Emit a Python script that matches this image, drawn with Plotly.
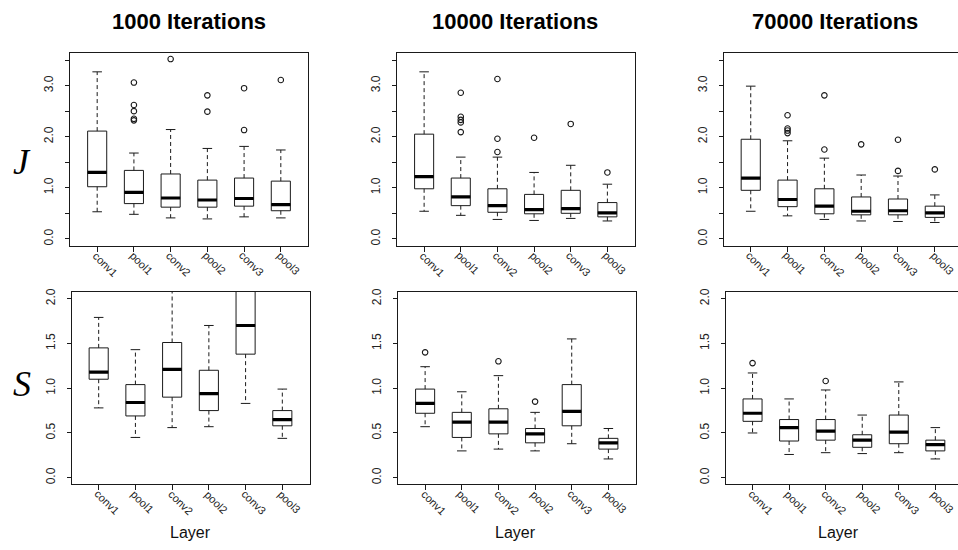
import plotly.graph_objects as go

# ---------------- data ----------------
layers = ["conv1", "pool1", "conv2", "pool2", "conv3", "pool3"]
col_titles = ["1000 Iterations", "10000 Iterations", "70000 Iterations"]
row_labels = ["J", "S"]
x_label = "Layer"

# J, 1000 iterations
J1k_lower = [0.53, 0.48, 0.41, 0.39, 0.43, 0.41]
J1k_q1 = [1.02, 0.69, 0.62, 0.62, 0.64, 0.55]
J1k_median = [1.30, 0.91, 0.80, 0.76, 0.79, 0.67]
J1k_q3 = [2.11, 1.34, 1.27, 1.15, 1.19, 1.13]
J1k_upper = [3.27, 1.68, 2.14, 1.77, 1.81, 1.74]
J1k_outliers = [[], [3.06, 2.62, 2.50, 2.35, 2.32], [3.52], [2.81, 2.49], [2.95, 2.13], [3.11]]

# J, 10000 iterations
J10k_lower = [0.54, 0.46, 0.38, 0.36, 0.40, 0.35]
J10k_q1 = [0.98, 0.65, 0.52, 0.49, 0.50, 0.43]
J10k_median = [1.22, 0.82, 0.65, 0.57, 0.59, 0.51]
J10k_q3 = [2.05, 1.19, 0.98, 0.87, 0.95, 0.71]
J10k_upper = [3.27, 1.60, 1.60, 1.30, 1.44, 1.07]
J10k_outliers = [[], [2.86, 2.39, 2.33, 2.28, 2.09], [3.13, 1.96, 1.70], [1.98], [2.25], [1.30]]

# J, 70000 iterations
J70k_lower = [0.54, 0.45, 0.38, 0.35, 0.34, 0.32]
J70k_q1 = [0.95, 0.63, 0.49, 0.47, 0.47, 0.42]
J70k_median = [1.19, 0.77, 0.64, 0.54, 0.55, 0.51]
J70k_q3 = [1.95, 1.15, 0.98, 0.82, 0.78, 0.64]
J70k_upper = [2.99, 1.92, 1.58, 1.25, 1.23, 0.86]
J70k_outliers = [[], [2.42, 2.16, 2.12, 2.07], [2.81, 1.75], [1.85], [1.94, 1.33], [1.36]]

# S, 1000 iterations
S1k_lower = [0.78, 0.45, 0.56, 0.57, 0.83, 0.44]
S1k_q1 = [1.10, 0.69, 0.90, 0.75, 1.38, 0.58]
S1k_median = [1.18, 0.84, 1.21, 0.94, 1.70, 0.65]
S1k_q3 = [1.45, 1.04, 1.51, 1.20, 2.20, 0.75]
S1k_upper = [1.79, 1.43, 2.25, 1.70, 2.90, 0.99]
S1k_outliers = [[], [], [], [], [], []]

# S, 10000 iterations
S10k_lower = [0.57, 0.30, 0.32, 0.30, 0.38, 0.21]
S10k_q1 = [0.72, 0.45, 0.49, 0.39, 0.58, 0.32]
S10k_median = [0.83, 0.62, 0.62, 0.49, 0.74, 0.39]
S10k_q3 = [0.99, 0.73, 0.77, 0.55, 1.04, 0.44]
S10k_upper = [1.24, 0.96, 1.14, 0.73, 1.55, 0.55]
S10k_outliers = [[1.40], [], [1.30], [0.85], [], []]

# S, 70000 iterations
S70k_lower = [0.50, 0.26, 0.28, 0.27, 0.28, 0.21]
S70k_q1 = [0.63, 0.41, 0.42, 0.34, 0.38, 0.30]
S70k_median = [0.72, 0.56, 0.52, 0.42, 0.51, 0.37]
S70k_q3 = [0.88, 0.65, 0.65, 0.48, 0.70, 0.42]
S70k_upper = [1.17, 0.88, 0.98, 0.70, 1.07, 0.56]
S70k_outliers = [[1.28], [], [1.08], [], [], []]

J_ticks = [0.0, 0.5, 1.0, 1.5, 2.0, 2.5, 3.0, 3.5]
J_ticktext = ["0.0", "", "1.0", "", "2.0", "", "3.0", ""]
S_ticks = [0.0, 0.5, 1.0, 1.5, 2.0]
S_ticktext = ["0.0", "0.5", "1.0", "1.5", "2.0"]

# ---------------- layout geometry ----------------
W, H = 958, 550
BOX_W = 0.52
CAP_W = 0.26
INK = "#1a1a1a"
TXT = "#222222"
SANS = "Liberation Sans, Arial, sans-serif"

panels = [
    # (stats, row, col, x px domain, x range right)
    ((J1k_lower, J1k_q1, J1k_median, J1k_q3, J1k_upper, J1k_outliers), 0, 0, (70, 308), 6.74),
    ((J10k_lower, J10k_q1, J10k_median, J10k_q3, J10k_upper, J10k_outliers), 0, 1, (397, 634.5), 6.74),
    ((J70k_lower, J70k_q1, J70k_median, J70k_q3, J70k_upper, J70k_outliers), 0, 2, (723.5, 958), 6.63),
    ((S1k_lower, S1k_q1, S1k_median, S1k_q3, S1k_upper, S1k_outliers), 1, 0, (71.5, 309.5), 6.74),
    ((S10k_lower, S10k_q1, S10k_median, S10k_q3, S10k_upper, S10k_outliers), 1, 1, (398, 635.5), 6.74),
    ((S70k_lower, S70k_q1, S70k_median, S70k_q3, S70k_upper, S70k_outliers), 1, 2, (725.5, 958), 6.62),
]
row_px = [(49.3, 243.5), (290, 484)]
row_range = [[-0.135, 3.64], [-0.075, 2.075]]

fig = go.Figure()
layout = {}
annotations = []

for i, (stats, r, c, xpx, xr) in enumerate(panels):
    lower, q1, med, q3, upper, outl = stats
    n = i + 1
    xa = "x" if n == 1 else f"x{n}"
    ya = "y" if n == 1 else f"y{n}"
    pos = list(range(1, len(layers) + 1))

    # boxes
    fig.add_trace(go.Box(
        x=pos, q1=q1, median=med, q3=q3, lowerfence=q1, upperfence=q3,
        width=BOX_W, whiskerwidth=0, fillcolor="white",
        line=dict(color=INK, width=1), xaxis=xa, yaxis=ya,
        showlegend=False, hoverinfo="skip", boxpoints=False,
    ))

    # dashed whiskers
    wx, wy = [], []
    for p, lo, a, b, hi in zip(pos, lower, q1, q3, upper):
        wx += [p, p, None, p, p, None]
        wy += [b, hi, None, a, lo, None]
    fig.add_trace(go.Scatter(x=wx, y=wy, mode="lines", xaxis=xa, yaxis=ya,
                             line=dict(color=INK, width=1, dash="4px,3px"),
                             showlegend=False, hoverinfo="skip"))
    # caps
    cx, cy = [], []
    for p, lo, hi in zip(pos, lower, upper):
        cx += [p - CAP_W / 2, p + CAP_W / 2, None, p - CAP_W / 2, p + CAP_W / 2, None]
        cy += [hi, hi, None, lo, lo, None]
    fig.add_trace(go.Scatter(x=cx, y=cy, mode="lines", xaxis=xa, yaxis=ya,
                             line=dict(color=INK, width=1),
                             showlegend=False, hoverinfo="skip"))
    # thick medians
    mx, my = [], []
    for p, m in zip(pos, med):
        mx += [p - BOX_W / 2, p + BOX_W / 2, None]
        my += [m, m, None]
    fig.add_trace(go.Scatter(x=mx, y=my, mode="lines", xaxis=xa, yaxis=ya,
                             line=dict(color="black", width=3.2),
                             showlegend=False, hoverinfo="skip"))
    # outliers
    ox, oy = [], []
    for p, vals in zip(pos, outl):
        for v in vals:
            ox.append(p)
            oy.append(v)
    if ox:
        fig.add_trace(go.Scatter(x=ox, y=oy, mode="markers", xaxis=xa, yaxis=ya,
                                 marker=dict(symbol="circle-open", size=5.5,
                                             color=INK, line=dict(width=1.1)),
                                 showlegend=False, hoverinfo="skip"))

    ytop, ybot = row_px[r]
    layout["xaxis" if n == 1 else f"xaxis{n}"] = dict(
        domain=[xpx[0] / W, xpx[1] / W], anchor=ya, range=[0.26, xr],
        tickmode="array", tickvals=pos, ticktext=["" for _ in layers],
        ticks="outside", ticklen=5, tickcolor=INK, tickwidth=1,
        showline=True, mirror=True, linecolor=INK, linewidth=1,
        showgrid=False, zeroline=False,
    )
    layout["yaxis" if n == 1 else f"yaxis{n}"] = dict(
        domain=[1 - ybot / H, 1 - ytop / H], anchor=xa, range=row_range[r],
        tickmode="array",
        tickvals=J_ticks if r == 0 else S_ticks,
        ticktext=J_ticktext if r == 0 else S_ticktext,
        tickangle=-90, ticks="outside", ticklen=4, tickcolor=INK, tickwidth=1,
        ticklabelstandoff=7,
        showline=True, mirror=(c != 2), linecolor=INK, linewidth=1,
        showgrid=False, zeroline=False,
        tickfont=dict(family=SANS, size=12, color=TXT),
    )

    # rotated category labels under each tick
    for p, lab in zip(pos, layers):
        annotations.append(dict(
            text=lab, x=p, y=1 - (ybot + 2) / H, xref=xa, yref="paper",
            xanchor="left", yanchor="top", textangle=45, showarrow=False,
            xshift=-8, borderpad=0,
            font=dict(family=SANS, size=11, color=TXT),
        ))

title_x = [189, 515, 835]
layer_x = [190, 515, 838]
for t, xp in zip(col_titles, title_x):
    annotations.append(dict(text=f"<b>{t}</b>", x=xp / W, y=1 - 18 / H, xref="paper", yref="paper",
                            xanchor="center", yanchor="middle", showarrow=False,
                            font=dict(family=SANS, size=22, color="black")))
for xp in layer_x:
    annotations.append(dict(text=x_label, x=xp / W, y=1 - 532 / H, xref="paper", yref="paper",
                            xanchor="center", yanchor="middle", showarrow=False,
                            font=dict(family=SANS, size=16, color="#111")))
for lbl, yp in zip(row_labels, [159, 383]):
    annotations.append(dict(text=f"<i>{lbl}</i>", x=22 / W, y=1 - yp / H, xref="paper", yref="paper",
                            xanchor="center", yanchor="middle", showarrow=False,
                            font=dict(family="Liberation Serif, Times New Roman, serif", size=36, color="black")))

fig.update_layout(
    width=W, height=H, margin=dict(l=0, r=0, t=0, b=0),
    paper_bgcolor="white", plot_bgcolor="white",
    showlegend=False, annotations=annotations, **layout,
)

fig.write_html("out.html", config={"displayModeBar": False},
               post_script="document.body.style.margin='0px';document.body.style.overflow='hidden';")
